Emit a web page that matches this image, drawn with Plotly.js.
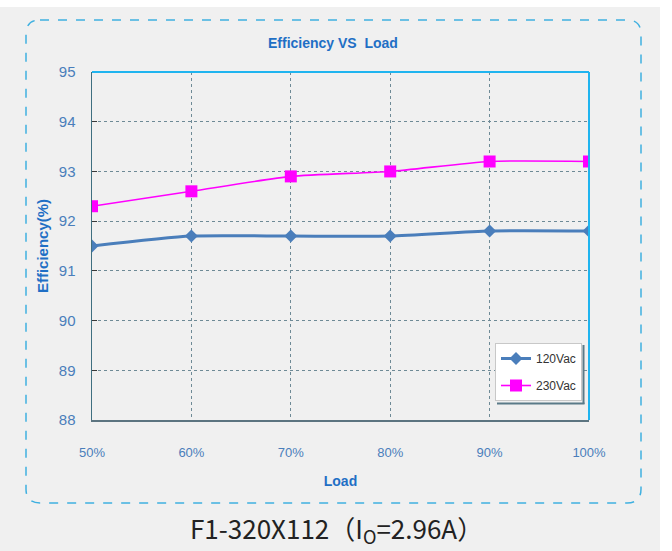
<!DOCTYPE html>
<html><head><meta charset="utf-8">
<script src="https://cdn.plot.ly/plotly-3.0.1.min.js"></script>
<style>html,body{margin:0;padding:0;background:#ffffff;}#chart{position:absolute;left:0;top:7px;width:660px;height:544px;}</style>
</head><body><div id="chart"></div>
<script>
var loads = [50, 60, 70, 80, 90, 100];
var eff120 = [91.5, 91.7, 91.7, 91.7, 91.8, 91.8];
var eff230 = [92.3, 92.6, 92.9, 93.0, 93.2, 93.2];
var seriesNames = ['120Vac', '230Vac'];
var yTicks = [88, 89, 90, 91, 92, 93, 94, 95];

var traces = [
  {x: loads, y: eff120, name: seriesNames[0], legendgroup: 'a', type: 'scatter', mode: 'lines+markers',
   line: {color: '#4a7ebb', width: 3, shape: 'spline', smoothing: 0.6},
   marker: {symbol: 'diamond', size: 10, color: '#4a7ebb'}},
  {x: loads, y: eff230, name: seriesNames[1], legendgroup: 'b', type: 'scatter', mode: 'lines+markers',
   line: {color: '#ff00ff', width: 1.6, shape: 'spline', smoothing: 0.6},
   marker: {symbol: 'square', size: 12, color: '#ff00ff'}}
];

function fx(px){return (px-92)/497;}
function fy(py){return (420-py)/348;}
var L=fx(26), R=fx(641), T=fy(20), B=fy(503);
var rx=14/497, ry=14/348;
var framePath = 'M '+(L+rx)+' '+T+' L '+(R-rx)+' '+T+' Q '+R+' '+T+' '+R+' '+(T-ry)+
  ' L '+R+' '+(B+ry)+' Q '+R+' '+B+' '+(R-rx)+' '+B+' L '+(L+rx)+' '+B+' Q '+L+' '+B+' '+L+' '+(B+ry)+
  ' L '+L+' '+(T-ry)+' Q '+L+' '+T+' '+(L+rx)+' '+T+' Z';

var layout = {
  width: 660, height: 544,
  margin: {l: 92, r: 71, t: 65, b: 131},
  paper_bgcolor: '#f0f0f0', plot_bgcolor: '#f0f0f0',
  font: {family: 'Liberation Sans, Arial, sans-serif', color: '#4a7ebb'},
  title: {text: '<b>Efficiency VS  Load</b>', x: 0.5045, xref: 'container', y: 0.934, yref: 'container',
          yanchor: 'middle', xanchor: 'center', font: {size: 14, color: '#1f6fc5'}},
  xaxis: {range: [50, 100], tickvals: loads, ticktext: loads.map(function(v){return v+'%';}),
          showgrid: true, gridcolor: '#6e8a96', griddash: 'dot', gridwidth: 1,
          showline: true, linecolor: '#5c7480', linewidth: 1.5, zeroline: false,
          ticks: '', ticklabelstandoff: 20, tickfont: {size: 13, color: '#4a7ebb'},
          title: {text: '<b>Load</b>', font: {size: 14, color: '#1f6fc5'}, standoff: 17}},
  yaxis: {range: [88, 95], tickvals: yTicks,
          showgrid: true, gridcolor: '#6e8a96', griddash: 'dot', gridwidth: 1,
          showline: true, linecolor: '#3f6f80', linewidth: 1.5, zeroline: false,
          ticks: 'inside', ticklen: 5, tickcolor: '#3a3a3a',
          ticklabelstandoff: 12, tickfont: {size: 15, color: '#4a7ebb'},
          title: {text: '<b>Efficiency(%)</b>', font: {size: 15, color: '#1f6fc5'}, standoff: 6}},
  showlegend: true,
  legend: {x: fx(495), y: fy(343), xanchor: 'left', yanchor: 'top', bgcolor: '#ffffff',
           bordercolor: '#c8c8c8', borderwidth: 1, font: {size: 12, color: '#333333'},
           itemwidth: 30, traceorder: 'grouped', tracegroupgap: 8},
  shapes: [
    {type: 'path', xref: 'paper', yref: 'paper', path: framePath,
     line: {color: '#3fb0e0', width: 1.5, dash: 'dash'}},
    {type: 'line', xref: 'paper', yref: 'paper', x0: 0, x1: 1, y0: 1, y1: 1, line: {color: '#1fb4ef', width: 2}},
    {type: 'line', xref: 'paper', yref: 'paper', x0: 1, x1: 1, y0: 0, y1: 1, line: {color: '#1fb4ef', width: 2}},
    {type: 'line', xref: 'paper', yref: 'paper', layer: 'above', x0: fx(583.5), x1: fx(583.5), y0: fy(345), y1: fy(404),
     line: {color: '#5a7a88', width: 2}},
    {type: 'line', xref: 'paper', yref: 'paper', layer: 'above', x0: fx(497), x1: fx(584.5), y0: fy(403.5), y1: fy(403.5),
     line: {color: '#5a7a88', width: 2}}
  ],
  annotations: [
    {text: 'F1-320X112（I<sub>O</sub>=2.96A）', xref: 'paper', yref: 'paper', x: fx(336), y: fy(529),
     xanchor: 'center', yanchor: 'middle', showarrow: false,
     font: {size: 26, color: '#222222', family: 'Noto Sans CJK SC, sans-serif'}}
  ]
};
Plotly.newPlot('chart', traces, layout, {displayModeBar: false, staticPlot: true});
</script></body></html>
